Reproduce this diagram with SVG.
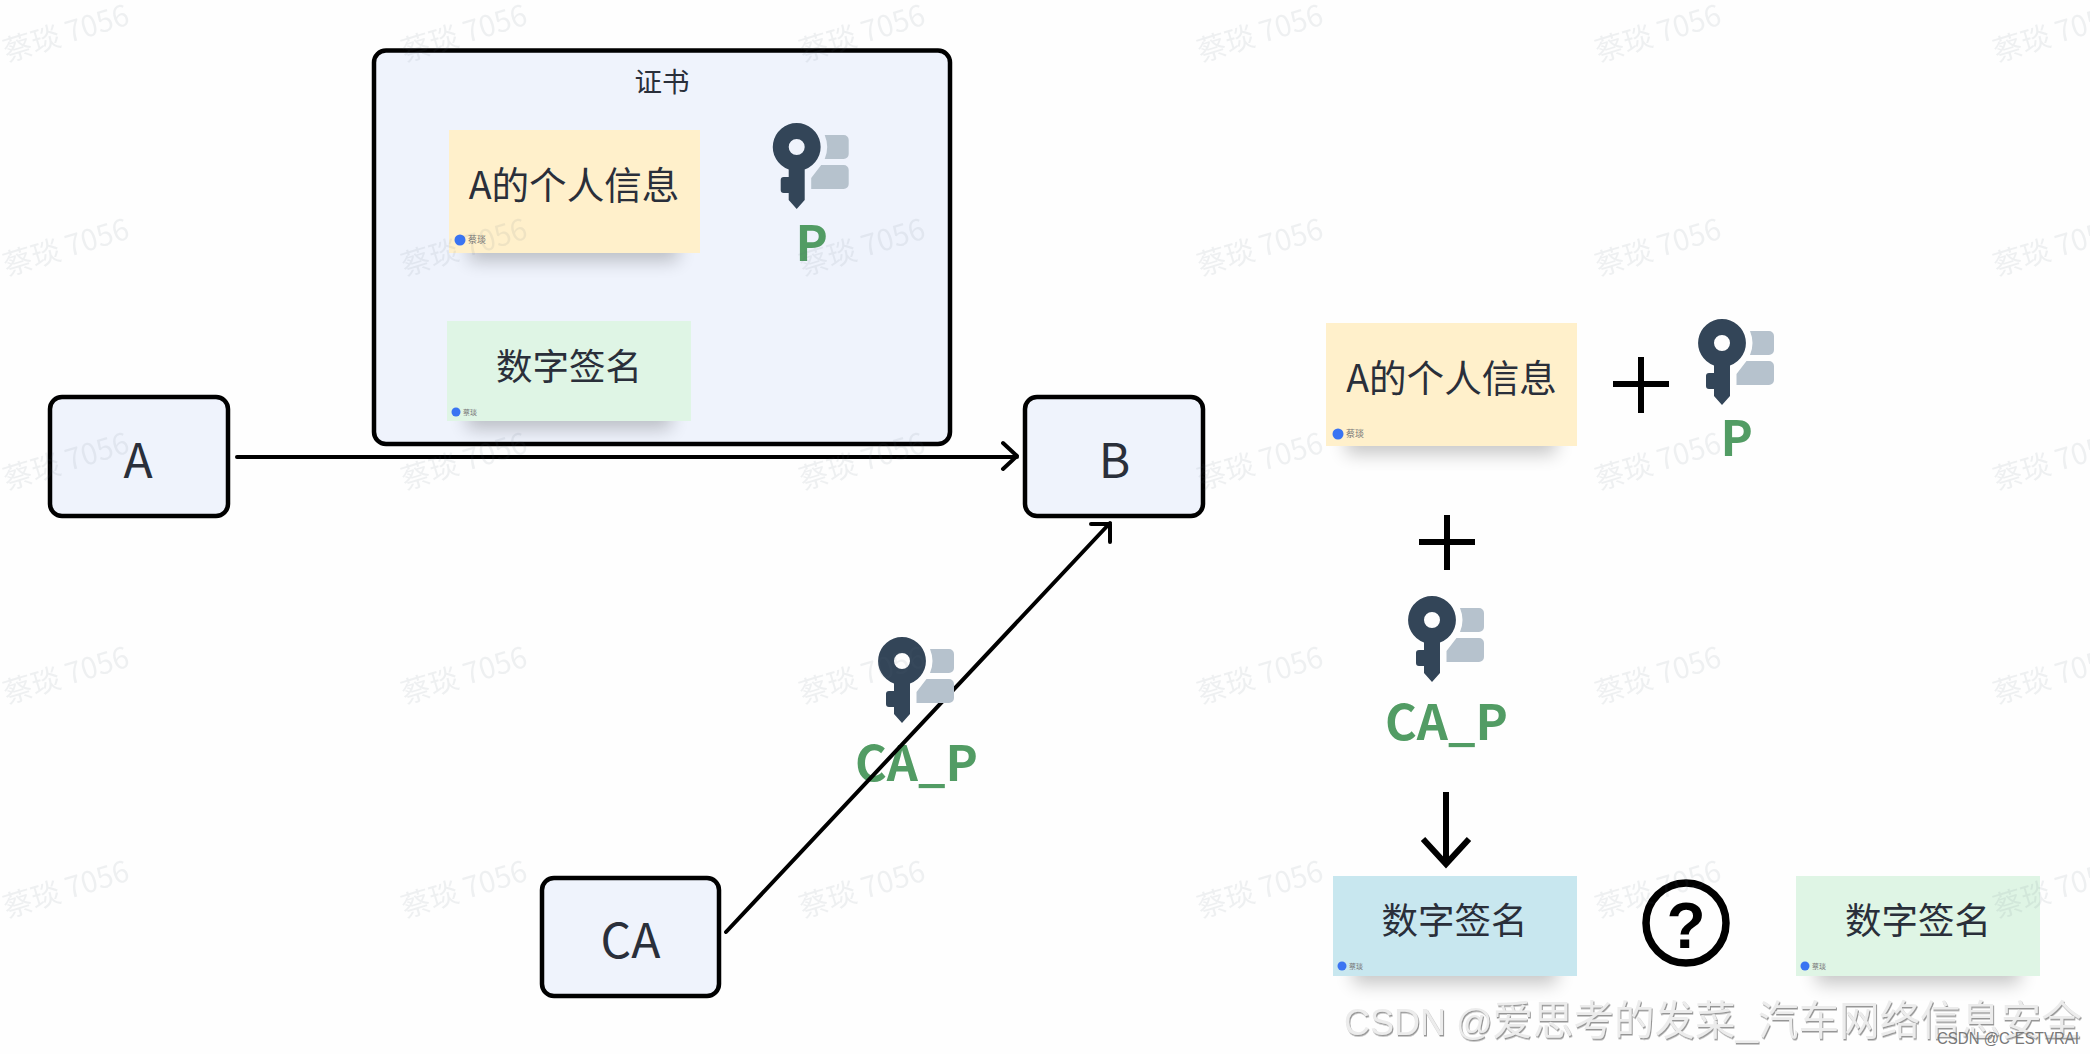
<svg xmlns="http://www.w3.org/2000/svg" xmlns:xlink="http://www.w3.org/1999/xlink" width="2090" height="1054" viewBox="0 0 2090 1054">
<style>
text{font-family:"Noto Sans CJK SC","Noto Sans",sans-serif}
.box{fill:#eff3fc;stroke:#000;stroke-width:4.5}
.lbl{fill:#2a2f3a;text-anchor:middle}
.big{font-size:48px}
.card{font-size:36.500px}
.info{font-size:37.600px}
.cap{fill:#529c64;font-weight:700;font-size:48.500px}
.line{fill:none;stroke:#000;stroke-width:4;stroke-linecap:round;stroke-linejoin:round}
.sym{fill:none;stroke:#000;stroke-width:6}
.shadow{fill:#000;opacity:.22;filter:url(#blur)}
.badge{fill:#3a74f2}
.tag{fill:#777;font-size:9px}
.wm{fill:#5a6a7a;opacity:.09;font-size:29.200px}
</style>
<defs>
<filter id="blur" x="-30%" y="-60%" width="160%" height="220%"><feGaussianBlur stdDeviation="9"/></filter>
<filter id="emboss" x="-2%" y="-20%" width="104%" height="140%"><feDropShadow dx="1" dy="1.500" stdDeviation="0.700" flood-color="#969696"/></filter>
<symbol id="key" overflow="visible" viewBox="-30 -30 90 100" width="90" height="100">
<path fill="#334558" fill-rule="evenodd" d="M0-24A24 24 0 0 1 8 22.600V53L0 62-8 53V46H-13A3 3 0 0 1-16 43V33A3 3 0 0 1-13 30H-8V22.600A24 24 0 0 1 0-24ZM0-8A8 8 0 1 0 0 8 8 8 0 1 0 0-8Z"/>
<path fill="#b6c2cd" d="M28-12H47A5 5 0 0 1 52-7V7A5 5 0 0 1 47 12H28Q33 0 28-12ZM24.500 18H47A5 5 0 0 1 52 23V37A5 5 0 0 1 47 42H14.500V31Z"/>
</symbol>
<text id="wmt" class="wm">蔡琰 7056</text>
</defs>
<rect width="2090" height="1054" fill="#fefefe"/>

<g id="node-cert">
<rect class="box" x="374" y="50.500" width="576" height="393.500" rx="12"/>
<text class="lbl" x="662" y="92" font-size="27.500">证书</text>
</g>
<g id="card-info-1">
<rect class="shadow" x="469" y="225" width="209" height="36"/>
<rect x="449" y="130" width="251" height="123" fill="#fff0cb"/>
<text class="lbl info" x="574" y="198.500">A的个人信息</text>
<circle class="badge" cx="460" cy="240" r="5.500"/><text class="tag" x="468" y="243">蔡琰</text>
</g>
<g id="card-sign-1">
<rect class="shadow" x="467" y="393" width="204" height="36"/>
<rect x="447" y="321" width="244" height="100" fill="#dff5e5"/>
<text class="lbl card" x="569" y="380">数字签名</text>
<circle class="badge" cx="456" cy="412" r="4.500"/><text class="tag" style="font-size:7px" x="463" y="415">蔡琰</text>
</g>
<g id="key-p-1">
<use xlink:href="#key" href="#key" x="766.700" y="117"/>
<text class="cap" x="795.500" y="261">P</text>
</g>

<g id="node-a"><rect class="box" x="50" y="397" width="178" height="119" rx="12"/><text class="lbl big" x="138" y="478">A</text></g>
<g id="node-b"><rect class="box" x="1025" y="397" width="178" height="119" rx="12"/><text class="lbl big" x="1114.500" y="477.500">B</text></g>
<g id="node-ca"><rect class="box" x="542" y="878" width="177" height="118" rx="12"/><text class="lbl big" x="630.500" y="958">CA</text></g>

<g id="label-ca-p"><text class="cap" x="855" y="781">CA_P</text></g>
<g id="connectors">
<path class="line" d="M237 457H1017M1003 443L1017 456 1003 469"/>
<path class="line" d="M726 932L1110 523M1091 524H1110V542"/>
</g>
<g id="key-ca-p-1"><use xlink:href="#key" href="#key" x="872" y="631"/></g>

<g id="card-info-2">
<rect class="shadow" x="1346" y="418" width="210" height="36"/>
<rect x="1326" y="323" width="251" height="123" fill="#fff0cb"/>
<text class="lbl info" x="1451.500" y="392">A的个人信息</text>
<circle class="badge" cx="1338" cy="434" r="5.500"/><text class="tag" x="1346" y="437">蔡琰</text>
</g>
<g id="plus-1"><path class="sym" d="M1613 384H1669M1641 357V413"/></g>
<g id="key-p-2"><use xlink:href="#key" href="#key" x="1692" y="313"/><text class="cap" x="1720.500" y="456">P</text></g>
<g id="plus-2"><path class="sym" d="M1419 542H1475M1447 515V570"/></g>
<g id="key-ca-p-2"><use xlink:href="#key" href="#key" x="1402" y="590"/><text class="cap" x="1385" y="740">CA_P</text></g>
<g id="arrow-down"><path class="sym" d="M1446 792V862M1423 839L1446 864 1469 839"/></g>
<g id="card-sign-blue">
<rect class="shadow" x="1353" y="948" width="204" height="36"/>
<rect x="1333" y="876" width="244" height="100" fill="#c8e7ef"/>
<text class="lbl card" x="1454.500" y="934">数字签名</text>
<circle class="badge" cx="1342" cy="966" r="4.500"/><text class="tag" style="font-size:7px" x="1349" y="969">蔡琰</text>
</g>
<g id="question">
<circle cx="1686" cy="923" r="40" fill="none" stroke="#000" stroke-width="7.500"/>
<text x="1686" y="948" text-anchor="middle" style="font-family:'Liberation Sans',sans-serif" font-weight="700" font-size="64">?</text>
</g>
<g id="card-sign-2">
<rect class="shadow" x="1816" y="948" width="204" height="36"/>
<rect x="1796" y="876" width="244" height="100" fill="#dff5e5"/>
<text class="lbl card" x="1918" y="934">数字签名</text>
<circle class="badge" cx="1805" cy="966" r="4.500"/><text class="tag" style="font-size:7px" x="1812" y="969">蔡琰</text>
</g>

<g id="watermarks">
<use href="#wmt" transform="translate(7 62) rotate(-17)"/><use href="#wmt" transform="translate(405 62) rotate(-17)"/><use href="#wmt" transform="translate(803 62) rotate(-17)"/><use href="#wmt" transform="translate(1201 62) rotate(-17)"/><use href="#wmt" transform="translate(1599 62) rotate(-17)"/><use href="#wmt" transform="translate(1997 62) rotate(-17)"/>
<use href="#wmt" transform="translate(7 276) rotate(-17)"/><use href="#wmt" transform="translate(405 276) rotate(-17)"/><use href="#wmt" transform="translate(803 276) rotate(-17)"/><use href="#wmt" transform="translate(1201 276) rotate(-17)"/><use href="#wmt" transform="translate(1599 276) rotate(-17)"/><use href="#wmt" transform="translate(1997 276) rotate(-17)"/>
<use href="#wmt" transform="translate(7 490) rotate(-17)"/><use href="#wmt" transform="translate(405 490) rotate(-17)"/><use href="#wmt" transform="translate(803 490) rotate(-17)"/><use href="#wmt" transform="translate(1201 490) rotate(-17)"/><use href="#wmt" transform="translate(1599 490) rotate(-17)"/><use href="#wmt" transform="translate(1997 490) rotate(-17)"/>
<use href="#wmt" transform="translate(7 704) rotate(-17)"/><use href="#wmt" transform="translate(405 704) rotate(-17)"/><use href="#wmt" transform="translate(803 704) rotate(-17)"/><use href="#wmt" transform="translate(1201 704) rotate(-17)"/><use href="#wmt" transform="translate(1599 704) rotate(-17)"/><use href="#wmt" transform="translate(1997 704) rotate(-17)"/>
<use href="#wmt" transform="translate(7 918) rotate(-17)"/><use href="#wmt" transform="translate(405 918) rotate(-17)"/><use href="#wmt" transform="translate(803 918) rotate(-17)"/><use href="#wmt" transform="translate(1201 918) rotate(-17)"/><use href="#wmt" transform="translate(1599 918) rotate(-17)"/><use href="#wmt" transform="translate(1997 918) rotate(-17)"/>
</g>
<g id="csdn">
<text x="1344" y="1035" fill="#ececec" filter="url(#emboss)" font-size="40.500" style="font-family:'Liberation Sans','Noto Sans CJK SC',sans-serif"><tspan font-size="36">CSDN @</tspan>爱思考的发菜_汽车网络信息安全</text>
<text x="1937" y="1044" font-size="16" fill="#777" textLength="142" lengthAdjust="spacingAndGlyphs" style="font-family:'Liberation Sans',sans-serif">CSDN @C`ESTVRAI</text>
</g>
</svg>
